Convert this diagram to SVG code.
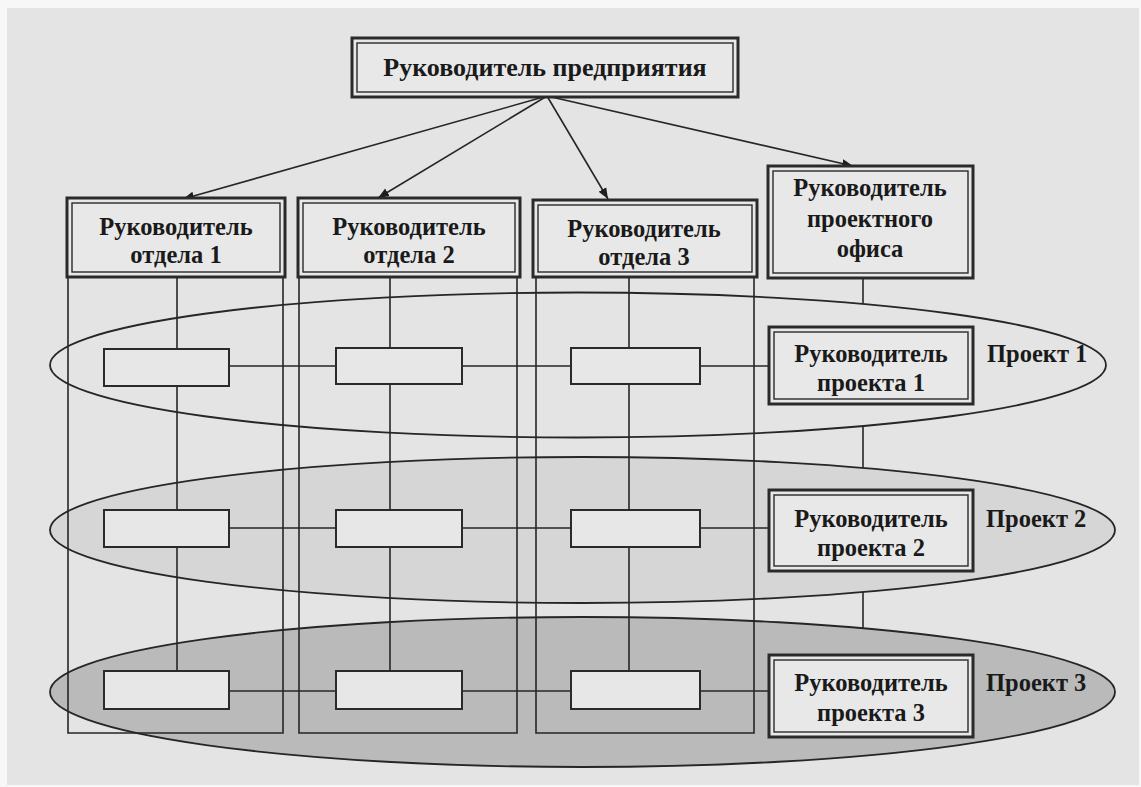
<svg xmlns="http://www.w3.org/2000/svg" width="1141" height="787" viewBox="0 0 1141 787">
  <defs>
    <marker id="arrow" viewBox="0 0 10 10" refX="10" refY="5" markerWidth="11" markerHeight="11" markerUnits="userSpaceOnUse" orient="auto">
      <path d="M0,1 L10,5 L0,9 Z" fill="#1e1e1e"/>
    </marker>
    <style>
      .bg { fill: #e4e4e4; }
      .line { stroke: #262626; stroke-width: 1.6; fill: none; }
      .arrow { stroke: #262626; stroke-width: 1.6; fill: none; marker-end: url(#arrow); }
      .outer { fill: #e8e8e8; stroke: #2a2a2a; stroke-width: 3; }
      .inner { fill: none; stroke: #2a2a2a; stroke-width: 1.4; }
      .cell { fill: #e7e7e7; stroke: #2a2a2a; stroke-width: 2; }
      .ell { stroke: #262626; stroke-width: 1.8; }
      .lbl { font-family: "Liberation Serif", "Times New Roman", serif; font-weight: bold; font-size: 24.5px; fill: #1a1a1a; text-anchor: middle; }
      .head { font-size: 26px; }
      .tag { font-family: "Liberation Serif", "Times New Roman", serif; font-weight: bold; font-size: 24.5px; fill: #1a1a1a; }
    </style>
  </defs>

  <!-- page -->
  <rect x="0" y="0" width="1141" height="787" fill="#f7f7f7"/>
  <rect class="bg" x="7" y="8" width="1132" height="777"/>

  <!-- project bands -->
  <g id="project-1">
    <ellipse class="ell" cx="578" cy="365" rx="528" ry="72.5" fill="#e4e4e4"/>
    <text class="tag" x="987" y="362">Проект 1</text>
  </g>
  <g id="project-2">
    <ellipse class="ell" cx="582.5" cy="530" rx="532.5" ry="73" fill="#d6d6d6"/>
    <text class="tag" x="986" y="527">Проект 2</text>
  </g>
  <g id="project-3">
    <ellipse class="ell" cx="582.5" cy="692" rx="532.5" ry="75" fill="#bababa"/>
    <text class="tag" x="986" y="691">Проект 3</text>
  </g>

  <g id="connectors">
    <!-- subordination arrows -->
    <line class="arrow" x1="547" y1="96" x2="183" y2="199"/>
    <line class="arrow" x1="547" y1="96" x2="378" y2="198"/>
    <line class="arrow" x1="547" y1="96" x2="608" y2="199"/>
    <line class="arrow" x1="547" y1="96" x2="853" y2="166"/>
    <!-- department column frames -->
    <polyline class="line" points="68,277 68,733 283,733 283,277"/>
    <polyline class="line" points="299,277 299,733 517,733 517,277"/>
    <polyline class="line" points="536,277 536,733 754,733 754,277"/>
    <!-- column axes -->
    <line class="line" x1="177" y1="277" x2="177" y2="671"/>
    <line class="line" x1="390" y1="277" x2="390" y2="671"/>
    <line class="line" x1="629" y1="277" x2="629" y2="671"/>
    <!-- project office axis, visible between bands -->
    <line class="line" x1="863" y1="278" x2="863" y2="303.5"/>
    <line class="line" x1="863" y1="425.5" x2="863" y2="468"/>
    <line class="line" x1="863" y1="592" x2="863" y2="628"/>
    <!-- project rows -->
    <line class="line" x1="229" y1="366" x2="769" y2="366"/>
    <line class="line" x1="229" y1="528" x2="769" y2="528"/>
    <line class="line" x1="229" y1="691" x2="769" y2="691"/>
  </g>

  <g id="head">
    <rect class="outer" x="352" y="38" width="386" height="59"/>
    <rect class="inner" x="357" y="43" width="376" height="49"/>
    <text class="lbl head" x="545" y="76">Руководитель предприятия</text>
  </g>

  <g id="dept-1">
    <rect class="outer" x="67" y="198" width="218" height="79"/>
    <rect class="inner" x="72" y="203" width="208" height="69"/>
    <text class="lbl" x="176" y="235">Руководитель</text>
    <text class="lbl" x="176" y="263">отдела 1</text>
  </g>
  <g id="dept-2">
    <rect class="outer" x="298" y="198" width="222" height="79"/>
    <rect class="inner" x="303" y="203" width="212" height="69"/>
    <text class="lbl" x="409" y="235">Руководитель</text>
    <text class="lbl" x="409" y="263">отдела 2</text>
  </g>
  <g id="dept-3">
    <rect class="outer" x="533" y="200" width="224" height="77"/>
    <rect class="inner" x="538" y="205" width="214" height="67"/>
    <text class="lbl" x="644" y="237">Руководитель</text>
    <text class="lbl" x="644" y="265">отдела 3</text>
  </g>
  <g id="office">
    <rect class="outer" x="768" y="166" width="205" height="112"/>
    <rect class="inner" x="773" y="171" width="195" height="102"/>
    <text class="lbl" x="870" y="196">Руководитель</text>
    <text class="lbl" x="870" y="227">проектного</text>
    <text class="lbl" x="870" y="257">офиса</text>
  </g>

  <g id="cell-1-1"><rect class="cell" x="104" y="349" width="125" height="37"/></g>
  <g id="cell-1-2"><rect class="cell" x="336" y="348" width="126" height="36"/></g>
  <g id="cell-1-3"><rect class="cell" x="571" y="348" width="129" height="36"/></g>
  <g id="cell-2-1"><rect class="cell" x="104" y="510" width="125" height="37"/></g>
  <g id="cell-2-2"><rect class="cell" x="336" y="510" width="126" height="37"/></g>
  <g id="cell-2-3"><rect class="cell" x="571" y="510" width="129" height="37"/></g>
  <g id="cell-3-1"><rect class="cell" x="104" y="671" width="125" height="38"/></g>
  <g id="cell-3-2"><rect class="cell" x="336" y="671" width="126" height="38"/></g>
  <g id="cell-3-3"><rect class="cell" x="571" y="671" width="129" height="38"/></g>

  <g id="pm-1">
    <rect class="outer" x="769" y="327" width="204" height="77"/>
    <rect class="inner" x="774" y="332" width="194" height="67"/>
    <text class="lbl" x="871" y="362">Руководитель</text>
    <text class="lbl" x="871" y="391">проекта 1</text>
  </g>
  <g id="pm-2">
    <rect class="outer" x="769" y="490" width="204" height="81"/>
    <rect class="inner" x="774" y="495" width="194" height="71"/>
    <text class="lbl" x="871" y="527">Руководитель</text>
    <text class="lbl" x="871" y="556">проекта 2</text>
  </g>
  <g id="pm-3">
    <rect class="outer" x="769" y="655" width="204" height="82"/>
    <rect class="inner" x="774" y="660" width="194" height="72"/>
    <text class="lbl" x="871" y="691">Руководитель</text>
    <text class="lbl" x="871" y="721">проекта 3</text>
  </g>
</svg>
